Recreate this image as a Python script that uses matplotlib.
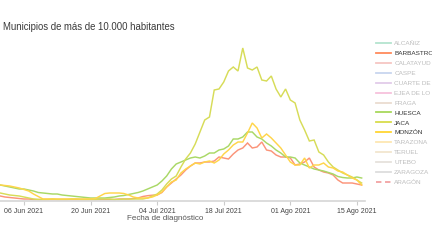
import matplotlib
matplotlib.use("Agg")
import matplotlib.pyplot as plt
from matplotlib.lines import Line2D
import pandas as pd

plt.rcParams['font.family'] = ['Liberation Sans', 'DejaVu Sans']

dates = pd.date_range("2021-06-01", periods=77, freq="D")

jaca = [7, 6, 5, 4.5, 4, 3, 2, 1, 0.5,
        0.5, 0.5, 1, 0.5, 0.5, 0.5, 1, 1, 0.5, 0.5, 0.5, 0.5, 1, 1, 1, 0.5, 0.5, 1, 1, 1, 1,
        1, 2, 4, 6, 10, 16, 21, 24, 33, 41, 47, 56, 68, 80, 83, 110, 111, 118, 129, 133,
        129, 152, 132, 130, 133, 120, 119, 124, 111, 103, 111, 100, 97, 80, 70, 59, 60,
        48, 45, 38, 33, 30, 27, 25, 23, 20, 17]
huesca = [15, 14, 13, 12, 11, 11, 10, 9, 7.5, 7, 6.5, 6, 6, 5, 4.5, 4, 3.5, 3, 2.5, 2,
          2, 2, 2, 2.5, 3, 4, 4.5, 5.5, 6.5, 7.5,
          9, 11, 13, 15, 19, 24, 31, 36, 38, 40, 42, 43, 42, 44, 47, 47, 50, 51, 54, 61,
          61, 63, 68, 68, 63, 61, 57, 54, 50, 47, 43, 43, 42, 37, 35, 33, 31, 30, 29, 27.5,
          26, 23.5, 22.5, 22, 22, 23, 22]
barbastro = [4, 3, 2.5, 2, 1.5, 1, 1, 0.5, 0.5, 0.5, 0.5, 0.5, 0.5, 0.5, 0.5, 0.5, 0.5,
             0.5, 0.5, 0.5, 0.5, 0.5, 0.5, 0.5, 0.5, 1, 1, 1, 1.5, 2,
             3.5, 4.3, 4.8, 5, 7.5, 13, 17, 21, 25, 30, 34, 37, 37, 38, 38, 39, 43, 42, 41,
             46, 50, 52, 57, 52, 53, 58, 50, 49, 45, 43, 43, 42, 35, 36, 38, 42, 33, 30,
             28, 27, 25, 20, 17, 17, 17, 16, 15]
monzon = [15, 14.5, 14, 13, 12, 10.5, 9, 6, 3.5, 1, 1, 1, 1, 1, 1, 1, 1, 1, 1, 1,
          1.5, 4, 6.5, 7, 7, 7, 6.5, 5, 3, 2, 2, 2,
          3, 5, 8, 13, 18, 20, 27, 31, 34, 37, 36, 38, 39, 37, 40, 46, 50, 55, 58, 58,
          67, 77, 72, 62, 66, 62, 57, 52, 45, 38, 35, 35, 42, 32, 35, 35, 37, 33, 32, 29,
          28, 25, 22, 20, 15]

tick_dates = ["2021-06-06", "2021-06-20", "2021-07-04", "2021-07-18", "2021-08-01", "2021-08-15"]
tick_labels = ["06 Jun 2021", "20 Jun 2021", "04 Jul 2021", "18 Jul 2021", "01 Ago 2021", "15 Ago 2021"]

legend_names = ["ALCAÑIZ", "BARBASTRO", "CALATAYUD", "CASPE", "CUARTE DE", "EJEA DE LO",
                "FRAGA", "HUESCA", "JACA", "MONZÓN", "TARAZONA", "TERUEL", "UTEBO",
                "ZARAGOZA", "ARAGÓN"]
legend_colors = ["#b4e4cf", "#ff8a5c", "#f6c6c3", "#c8d6ef", "#e2cbe9", "#f7c2dc",
                 "#eadcd0", "#a8d85c", "#d8dc4c", "#ffd633", "#fde7b2", "#f2e6cf",
                 "#e6e2dc", "#dddddd", "#f2a3a3"]
legend_active = [False, True, False, False, False, False, False, True, True, True,
                 False, False, False, False, False]

series = [("BARBASTRO", barbastro, "#fb9479"),
          ("HUESCA", huesca, "#a9d866"),
          ("JACA", jaca, "#d7dc58"),
          ("MONZÓN", monzon, "#ffd54a")]

W, H = 432, 243
fig = plt.figure(figsize=(W / 100, H / 100), dpi=100)
ax = fig.add_axes([0 / W, 1 - 201 / H, 365 / W, 161 / H])

for name, vals, col in series:
    ax.plot(dates, vals, color=col, lw=1.05, solid_joinstyle="miter")

start = pd.Timestamp("2021-06-01")
ax.set_xlim(start - pd.Timedelta(hours=1), start + pd.Timedelta(days=76.7))
ax.set_ylim(-1, 160)
ax.set_xticks(pd.to_datetime(tick_dates))
ax.set_xticklabels(tick_labels)
ax.tick_params(axis="x", length=3, width=0.8, color="#cccccc", labelsize=5,
               labelcolor="#444444", pad=2)
ax.set_yticks([])
for s in ["top", "right", "left"]:
    ax.spines[s].set_visible(False)
ax.spines["bottom"].set_color("#d6d6d6")
ax.spines["bottom"].set_linewidth(1.2)

fig.text(3 / W, 1 - 27 / H, "Municipios de más de 10.000 habitantes", fontsize=6.9,
         color="#3a3a3a", ha="left", va="center")
fig.text(165 / W, 1 - 218 / H, "Fecha de diagnóstico", fontsize=5.8,
         color="#555555", ha="center", va="center")

handles = []
for nm, c, act in zip(legend_names, legend_colors, legend_active):
    ls = (0, (3, 2)) if nm == "ARAGÓN" else "-"
    handles.append(Line2D([0], [0], color=c, lw=1.3, ls=ls))
leg = fig.legend(handles, legend_names, loc="upper left",
                 bbox_to_anchor=(376 / W, 1 - 41 / H), frameon=False, fontsize=4.6,
                 handlelength=2.4, handletextpad=0.45, labelspacing=0.69,
                 borderpad=0, borderaxespad=0)
for t, act in zip(leg.get_texts(), legend_active):
    t.set_color("#333333" if act else "#bdbdbd")

fig.savefig("out.png", dpi=100)
